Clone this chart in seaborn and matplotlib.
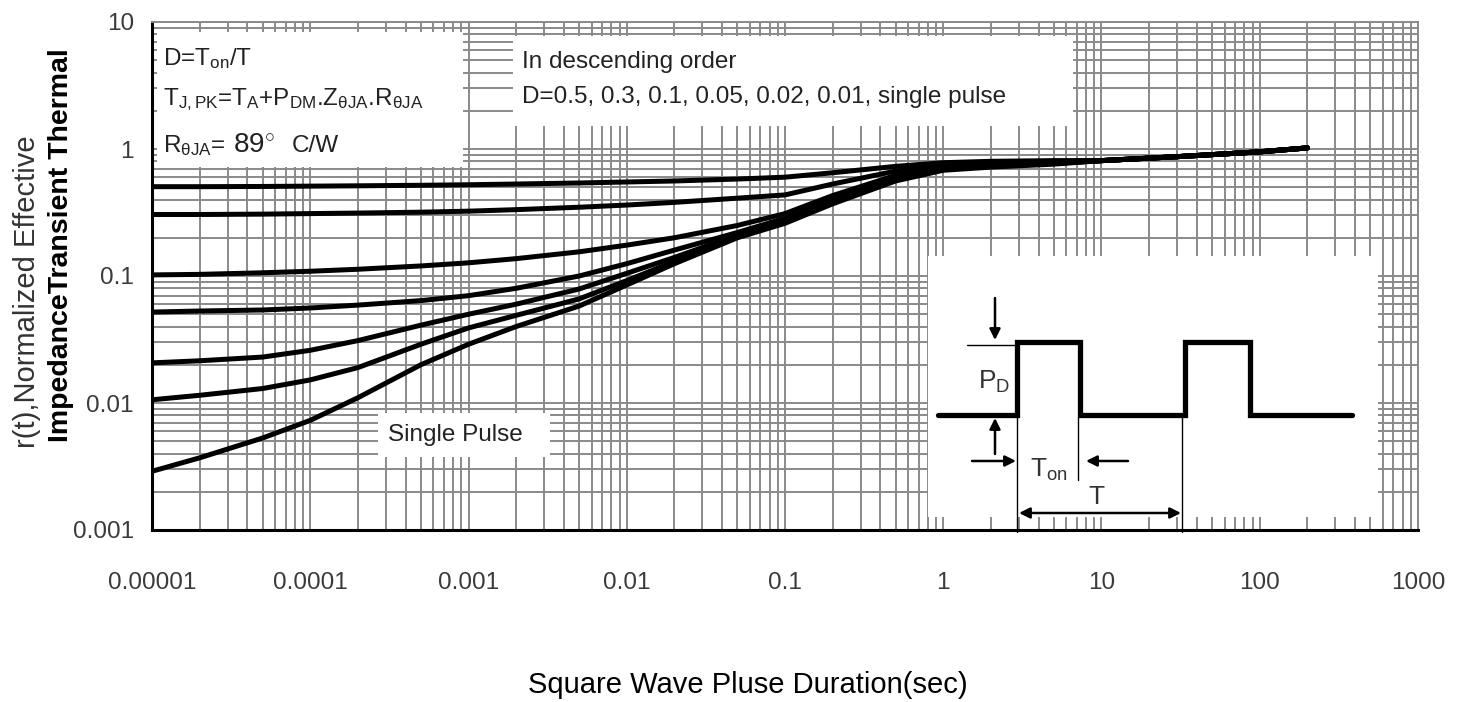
import matplotlib
matplotlib.use("Agg")
import matplotlib.pyplot as plt
from matplotlib.patches import Rectangle
from matplotlib.ticker import LogLocator, FixedLocator, FixedFormatter, NullFormatter
import numpy as np
import pandas as pd
import seaborn as sns

# ---------------- data ----------------
t_head = [1e-5, 2e-5, 5e-5, 1e-4, 2e-4, 5e-4, 1e-3, 2e-3, 5e-3, 1e-2, 2e-2, 5e-2,
          0.1, 0.2, 0.5, 1, 2, 5]
t_tail = [10, 30, 100, 200]
r_tail = [0.81, 0.87, 0.95, 1.02]

r_d050 = [0.505, 0.505, 0.507, 0.51, 0.513, 0.518, 0.523, 0.53, 0.54, 0.55, 0.56, 0.58,
          0.60, 0.65, 0.73, 0.78, 0.80, 0.81]
r_d030 = [0.305, 0.305, 0.307, 0.31, 0.313, 0.318, 0.324, 0.333, 0.348, 0.362, 0.38, 0.41,
          0.435, 0.53, 0.67, 0.75, 0.78, 0.80]
r_d010 = [0.102, 0.103, 0.106, 0.109, 0.113, 0.12, 0.127, 0.137, 0.155, 0.175, 0.20, 0.25,
          0.31, 0.43, 0.62, 0.72, 0.76, 0.79]
r_d005 = [0.052, 0.053, 0.054, 0.056, 0.059, 0.064, 0.070, 0.080, 0.100, 0.125, 0.16, 0.22,
          0.285, 0.40, 0.59, 0.71, 0.75, 0.78]
r_d002 = [0.0207, 0.0215, 0.023, 0.026, 0.031, 0.041, 0.050, 0.060, 0.079, 0.105, 0.14, 0.21,
          0.27, 0.39, 0.58, 0.70, 0.74, 0.77]
r_d001 = [0.0106, 0.0115, 0.013, 0.0152, 0.019, 0.029, 0.039, 0.049, 0.066, 0.092, 0.13, 0.205,
          0.265, 0.38, 0.57, 0.69, 0.73, 0.77]
r_single = [0.0029, 0.0037, 0.0053, 0.0073, 0.011, 0.020, 0.029, 0.040, 0.058, 0.085, 0.125, 0.20,
            0.26, 0.37, 0.56, 0.68, 0.72, 0.76]
curve_names = ["D=0.5", "D=0.3", "D=0.1", "D=0.05", "D=0.02", "D=0.01", "Single Pulse"]
curve_values = [r_d050, r_d030, r_d010, r_d005, r_d002, r_d001, r_single]

x_tick_vals = [1e-5, 1e-4, 1e-3, 1e-2, 1e-1, 1, 10, 100, 1000]
x_tick_labels = ["0.00001", "0.0001", "0.001", "0.01", "0.1", "1", "10", "100", "1000"]
y_tick_vals = [0.001, 0.01, 0.1, 1, 10]
y_tick_labels = ["0.001", "0.01", "0.1", "1", "10"]

rows = []
for name, vals in zip(curve_names, curve_values):
    for t, r in zip(t_head + t_tail, vals + r_tail):
        rows.append({"curve": name, "t": t, "r": r})
df = pd.DataFrame(rows)

# ---------------- style ----------------
sns.set_theme(style="white")
plt.rcParams["font.family"] = ["Liberation Sans", "DejaVu Sans"]
plt.rcParams["mathtext.fontset"] = "custom"
plt.rcParams["mathtext.rm"] = "Liberation Sans"
plt.rcParams["mathtext.it"] = "Liberation Sans:italic"
plt.rcParams["mathtext.bf"] = "Liberation Sans:bold"

W, H = 1461, 702
fig = plt.figure(figsize=(W / 100, H / 100), dpi=100)
fig.patch.set_facecolor("white")
L, R, T, B = 152, 1418, 22, 530
ax = fig.add_axes([L / W, 1 - B / H, (R - L) / W, (B - T) / H])

sns.lineplot(data=df, x="t", y="r", units="curve", estimator=None,
             color="black", linewidth=3.6, ax=ax, legend=False, zorder=3)
for ln in ax.lines:
    ln.set_solid_joinstyle("round")
    ln.set_solid_capstyle("round")

ax.set_xscale("log")
ax.set_yscale("log")
ax.set_xlim(1e-5, 1000)
ax.set_ylim(0.001, 10)

ax.xaxis.set_major_locator(FixedLocator(x_tick_vals))
ax.xaxis.set_major_formatter(FixedFormatter(x_tick_labels))
ax.yaxis.set_major_locator(FixedLocator(y_tick_vals))
ax.yaxis.set_major_formatter(FixedFormatter(y_tick_labels))
ax.xaxis.set_minor_locator(LogLocator(base=10, subs=np.arange(2, 10), numticks=50))
ax.yaxis.set_minor_locator(LogLocator(base=10, subs=np.arange(2, 10), numticks=50))
ax.xaxis.set_minor_formatter(NullFormatter())
ax.yaxis.set_minor_formatter(NullFormatter())

ax.grid(which="both", color="#8a8a8a", linewidth=1.4, zorder=1)
ax.set_axisbelow(True)
ax.tick_params(axis="x", which="major", direction="in", length=6, width=1.5,
               color="black", pad=30, labelsize=17.5, labelcolor="#3a3a3a")
ax.tick_params(axis="y", which="major", direction="in", length=0,
               pad=13, labelsize=17.5, labelcolor="#3a3a3a")
ax.tick_params(which="minor", length=0)
for s in ["left", "bottom"]:
    ax.spines[s].set_color("black")
    ax.spines[s].set_linewidth(2.2)
for s in ["top", "right"]:
    ax.spines[s].set_color("#8a8a8a")
    ax.spines[s].set_linewidth(1.4)
ax.set_xlabel("")
ax.set_ylabel("")

# axis titles
fig.text(748 / W, 1 - 685 / H, "Square Wave Pluse Duration(sec)", ha="center", va="center",
         fontsize=21, color="black")
fig.text(27 / W, 1 - 292 / H, "r(t),Normalized Effective", rotation=90, ha="center", va="center",
         fontsize=21, color="#333333")
fig.text(61 / W, 1 - 245 / H, "ImpedanceTransient Thermal", rotation=90, ha="center", va="center",
         fontsize=20.5, color="black", fontweight="bold")

# ---------------- overlay (pixel coordinates) ----------------
ov = fig.add_axes([0, 0, 1, 1])
ov.set_xlim(0, W)
ov.set_ylim(H, 0)
ov.axis("off")
ov.patch.set_alpha(0)
ov.set_zorder(5)

def box(x, y, w, h):
    ov.add_patch(Rectangle((x, y), w, h, facecolor="white", edgecolor="none", zorder=1))

FS = 17.5
TC = "#222222"
box(157, 32, 306, 135)
ov.text(163, 59, r"D=T$_{\rm on}$/T", fontsize=FS, va="center", color=TC)
ov.text(163, 100, r"T$_{\rm J,PK}$=T$_{\rm A}$+P$_{\rm DM}$.Z$_{\rm θJA}$.R$_{\rm θJA}$",
        fontsize=FS, va="center", color=TC)
ov.text(163, 146, r"R$_{\rm θJA}$=", fontsize=FS, va="center", color=TC)
ov.text(233, 146, r"89$^{\circ}$", fontsize=20, va="center", color=TC)
ov.text(292, 146, "C/W", fontsize=FS, va="center", color=TC)

box(513, 36, 560, 90)
ov.text(522, 62, "In descending order", fontsize=FS, va="center", color=TC)
ov.text(522, 97, "D=0.5, 0.3, 0.1, 0.05, 0.02, 0.01, single pulse", fontsize=FS,
        va="center", color=TC)

box(378, 413, 172, 44)
ov.text(388, 435, "Single Pulse", fontsize=FS, va="center", color=TC)

# inset pulse diagram
box(928, 256, 450, 261)
wave_x = [938, 1017, 1017, 1080, 1080, 1185, 1185, 1250, 1250, 1352]
wave_y = [415, 415, 342, 342, 415, 415, 342, 342, 415, 415]
ov.plot(wave_x, wave_y, color="black", linewidth=3.8, solid_joinstyle="miter", zorder=3)
thin = dict(color="black", linewidth=1.0, zorder=2)
ov.plot([967, 1017], [345, 345], **thin)
ov.plot([1017, 1017], [415, 532], **thin)
ov.plot([1182, 1182], [415, 532], **thin)
ov.plot([1078, 1078], [417, 480], **thin)
arr = dict(arrowstyle="-|>", color="black", lw=1.8, mutation_scale=16, shrinkA=0, shrinkB=0)
ov.annotate("", xy=(995, 340), xytext=(995, 298), arrowprops=arr, zorder=3)
ov.annotate("", xy=(995, 418), xytext=(995, 454), arrowprops=arr, zorder=3)
ov.annotate("", xy=(1016, 461), xytext=(972, 461), arrowprops=arr, zorder=3)
ov.annotate("", xy=(1086, 461), xytext=(1128, 461), arrowprops=arr, zorder=3)
ov.annotate("", xy=(1181, 513), xytext=(1019, 513),
            arrowprops=dict(arrowstyle="<|-|>", color="black", lw=1.8, mutation_scale=16,
                            shrinkA=0, shrinkB=0), zorder=3)
ov.text(978, 382, r"P$_{\rm D}$", fontsize=19, va="center", color="#333333")
ov.text(1030, 470, r"T$_{\rm on}$", fontsize=19, va="center", color="#333333")
ov.text(1088, 497, "T", fontsize=19, va="center", color="#333333")

fig.savefig("out.png", dpi=100, facecolor="white")
